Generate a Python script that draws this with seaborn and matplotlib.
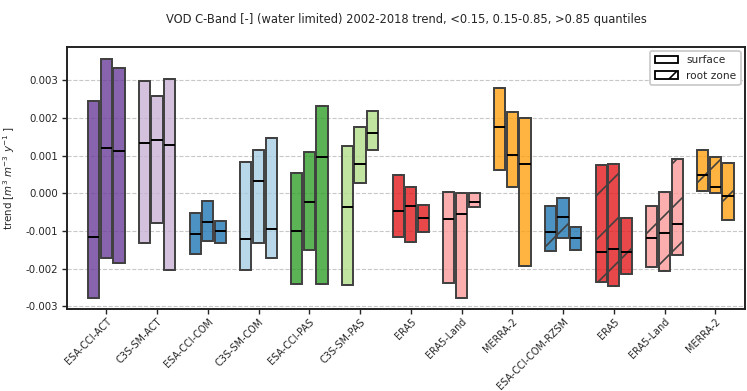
import numpy as np
import pandas as pd
import matplotlib
matplotlib.use("Agg")
import matplotlib.pyplot as plt
from matplotlib.patches import Patch
from matplotlib.colors import to_rgba
import seaborn as sns

# Products (surface soil moisture first, root-zone products last)
categories = ["ESA-CCI-ACT", "C3S-SM-ACT", "ESA-CCI-COM", "C3S-SM-COM",
              "ESA-CCI-PAS", "C3S-SM-PAS", "ERA5", "ERA5-Land", "MERRA-2",
              "ESA-CCI-COM-RZSM", "ERA5", "ERA5-Land", "MERRA-2"]
root_zone = [False] * 9 + [True] * 4
colors = ["#6a3d9a", "#cab2d6", "#1f78b4", "#a6cee3", "#33a02c", "#b2df8a",
          "#e31a1c", "#fb9a99", "#ffa010", "#1f78b4", "#e31a1c", "#fb9a99",
          "#ffa010"]

# Per product: three boxes (<0.15, 0.15-0.85, >0.85 quantile groups)
box_low = [
    [-2.79e-3, -1.71e-3, -1.86e-3],
    [-1.31e-3, -0.79e-3, -2.03e-3],
    [-1.61e-3, -1.27e-3, -1.32e-3],
    [-2.03e-3, -1.33e-3, -1.72e-3],
    [-2.40e-3, -1.51e-3, -2.42e-3],
    [-2.44e-3, 0.27e-3, 1.15e-3],
    [-1.16e-3, -1.28e-3, -1.03e-3],
    [-2.38e-3, -2.77e-3, -0.37e-3],
    [0.63e-3, 0.16e-3, -1.93e-3],
    [-1.52e-3, -1.19e-3, -1.51e-3],
    [-2.36e-3, -2.47e-3, -2.13e-3],
    [-1.95e-3, -2.07e-3, -1.65e-3],
    [0.07e-3, 0.02e-3, -0.72e-3],
]
box_median = [
    [-1.17e-3, 1.20e-3, 1.13e-3],
    [1.35e-3, 1.42e-3, 1.28e-3],
    [-1.09e-3, -0.76e-3, -1.00e-3],
    [-1.21e-3, 0.34e-3, -0.96e-3],
    [-0.99e-3, -0.23e-3, 0.97e-3],
    [-0.36e-3, 0.78e-3, 1.60e-3],
    [-0.47e-3, -0.34e-3, -0.65e-3],
    [-0.68e-3, -0.56e-3, -0.23e-3],
    [1.76e-3, 1.03e-3, 0.78e-3],
    [-1.03e-3, -0.63e-3, -1.19e-3],
    [-1.56e-3, -1.49e-3, -1.56e-3],
    [-1.19e-3, -1.05e-3, -0.82e-3],
    [0.48e-3, 0.18e-3, -0.06e-3],
]
box_high = [
    [2.45e-3, 3.57e-3, 3.34e-3],
    [2.99e-3, 2.58e-3, 3.05e-3],
    [-0.51e-3, -0.20e-3, -0.73e-3],
    [0.83e-3, 1.15e-3, 1.46e-3],
    [0.54e-3, 1.10e-3, 2.32e-3],
    [1.26e-3, 1.75e-3, 2.20e-3],
    [0.50e-3, 0.16e-3, -0.32e-3],
    [0.03e-3, 0.02e-3, 0.0],
    [2.80e-3, 2.16e-3, 1.99e-3],
    [-0.33e-3, -0.12e-3, -0.90e-3],
    [0.74e-3, 0.78e-3, -0.66e-3],
    [-0.33e-3, 0.04e-3, 0.92e-3],
    [1.14e-3, 0.96e-3, 0.81e-3],
]
quantile_groups = ["<0.15", "0.15-0.85", ">0.85"]

# Unique keys for the categorical axis (product names repeat)
keys = [f"{i:02d} {c}" for i, c in enumerate(categories)]

# Long-form table: 5 points per box so that Q1 = low, median, Q3 = high
rows = []
for key, lo3, me3, hi3 in zip(keys, box_low, box_median, box_high):
    for q, lo, me, hi in zip(quantile_groups, lo3, me3, hi3):
        for v in (lo, lo, me, hi, hi):
            rows.append({"product": key, "quantile": q, "trend": v})
df = pd.DataFrame(rows)

sns.set_style("ticks")
plt.rcParams["font.family"] = ["DejaVu Sans"]

DPI = 132
S = 100 / DPI  # point sizes below are given for a 100 dpi canvas
plt.rcParams["hatch.linewidth"] = 0.9

fig, ax = plt.subplots(figsize=(747 / DPI, 391 / DPI), dpi=DPI)
fig.subplots_adjust(left=0.09, right=0.997, bottom=0.21, top=0.88)

edge = "#404040"
for key, col, rz in zip(keys, colors, root_zone):
    n_before = len(ax.patches)
    face = to_rgba(col, 0.8)
    sns.boxplot(data=df[df["product"] == key], x="product", y="trend",
                hue="quantile", order=keys, hue_order=quantile_groups,
                palette=[face] * 3, saturation=1,
                width=0.75, gap=0.12, whis=0, showfliers=False,
                linecolor=edge, linewidth=1.4 * S,
                medianprops={"color": "black", "linewidth": 1.4 * S},
                legend=False, ax=ax)
    for p in ax.patches[n_before:]:
        p.set_facecolor(face)
        p.set_edgecolor(edge)
        if rz:
            p.set_hatch("/")

ax.set_xlim(-0.77, 12.58)
ax.set_ylim(-0.00307, 0.00389)
ax.set_yticks([-0.003, -0.002, -0.001, 0.0, 0.001, 0.002, 0.003])
ax.yaxis.set_major_formatter(matplotlib.ticker.FormatStrFormatter("%.3f"))
ax.set_xticks(range(len(categories)))
ax.set_xticklabels(categories, rotation=45, ha="right",
                   rotation_mode="anchor")
ax.tick_params(axis="both", labelsize=7.4 * S, width=1.0 * S,
               length=3.5 * S, pad=3 * S)
ax.tick_params(axis="x", labelsize=6.9 * S, pad=2 * S)
ax.set_xlabel("")
ax.set_ylabel(r"trend [$m^3$ $m^{-3}$ $y^{-1}$ ]", fontsize=7.4 * S,
              labelpad=6 * S)
ax.grid(axis="y", linestyle="--", color="#c8c8c8", linewidth=0.8 * S)
ax.set_axisbelow(True)
for s in ax.spines.values():
    s.set_linewidth(1.4 * S)
    s.set_color("#222222")

ax.set_title("VOD C-Band [-] (water limited) 2002-2018 trend, "
             "<0.15, 0.15-0.85, >0.85 quantiles", fontsize=8.3 * S,
             pad=17 * S)

handles = [Patch(facecolor="white", edgecolor="black", label="surface"),
           Patch(facecolor="white", edgecolor="black", hatch="/",
                 label="root zone")]
ax.legend(handles=handles, loc="upper right", fontsize=7.6 * S,
          framealpha=1, borderaxespad=0.4, handlelength=2.2)

fig.savefig("out.png", dpi=DPI)
